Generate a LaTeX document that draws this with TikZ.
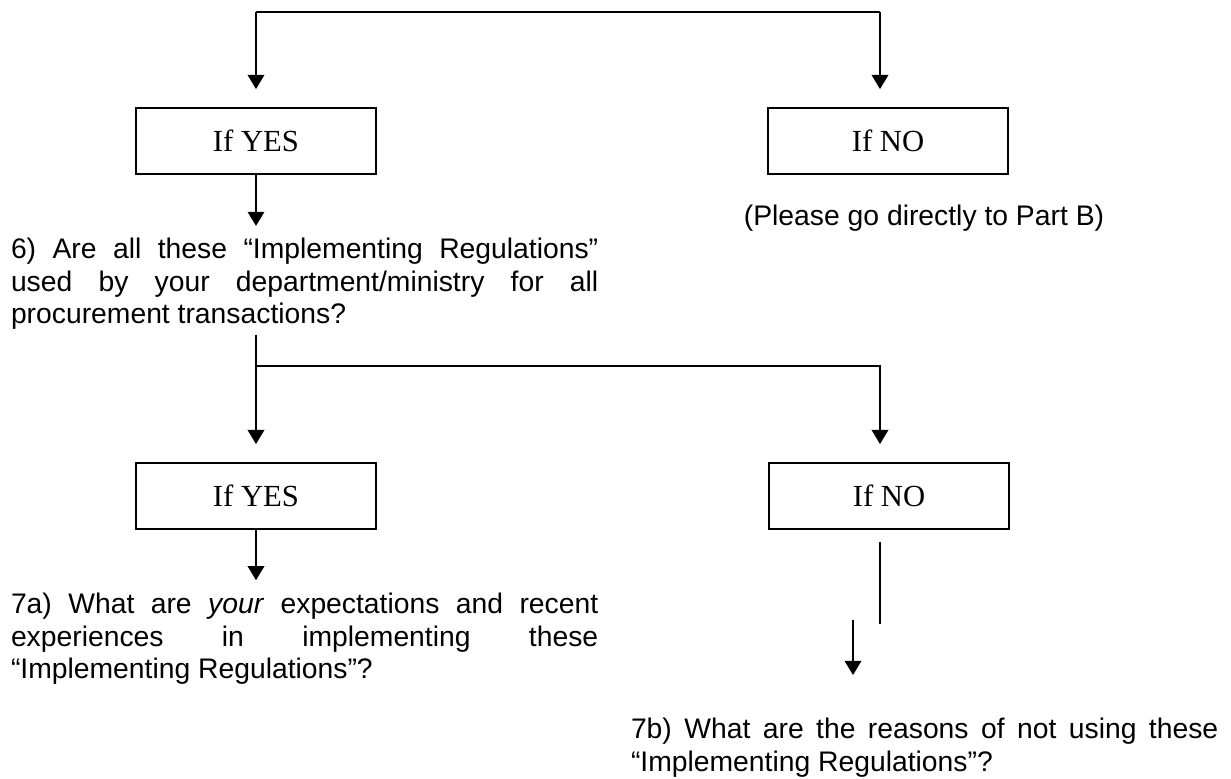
\documentclass[tikz,border=0pt]{standalone}
\usepackage{fontspec}
\setmainfont{Liberation Serif}
\setsansfont{Liberation Sans}
\usepackage{tikz}
\usetikzlibrary{arrows.meta}
\hyphenpenalty=10000
\exhyphenpenalty=10000
\tolerance=10000
\hbadness=10000
\tikzset{
every picture/.style={line width=0.85pt, >={Triangle[width=7pt,length=6pt]}},
%%%%%%%%%%  Node styles
choice_box/.style={draw, rectangle, minimum width=101.5pt, minimum height=28pt,
                   inner sep=0pt, font=\fontsize{13}{15}\selectfont},
question/.style={text width=249pt, align=justify, inner sep=0pt,
                 font=\sffamily\fontsize{12}{13.8}\selectfont},
skip_note/.style={inner sep=0pt, font=\sffamily\fontsize{12}{13.8}\selectfont},
%%%% line styles
flow/.style={->},
broken/.style={line width=0.5pt},
}

\begin{document}
\begin{tikzpicture}[x=0.424pt, y=-0.424pt]
\useasboundingbox (0,0) rectangle (1231,778);
%% first split
\coordinate (fork_a) at (256,12);
\coordinate (fork_a_no) at (880,12);
\node[choice_box] (yes_a) at (256,141) {If YES};
\node[choice_box] (no_a) at (888,141) {If NO};
\node[skip_note] (skip) at (924,218) {(Please go directly to Part B)};
\draw (fork_a) -- (fork_a_no);
\draw[flow, shorten >=7.6pt] (fork_a) -- (fork_a |- yes_a.north);
\draw[flow, shorten >=7.6pt] (fork_a_no) -- (fork_a_no |- no_a.north);
\node[question, anchor=north west] (q_six) at (10,237)
  {6) Are all these “Implementing Regulations” used by your department/ministry for all procurement transactions?};
\draw[flow, shorten >=4.7pt] (yes_a.south) -- (yes_a.south |- q_six.north);
%% second split
\coordinate (fork_b) at (256,366);
\coordinate (fork_b_no) at (880,366);
\node[choice_box] (yes_b) at (256,496) {If YES};
\node[choice_box] (no_b) at (889,496) {If NO};
\draw[flow, shorten <=1.7pt, shorten >=7.6pt] (q_six.south -| yes_b) -- (yes_b.north);
\draw[flow, shorten >=7.6pt] (fork_b) -| (fork_b_no |- no_b.north);
\node[question, anchor=north west] (q_sevena) at (10,592)
  {7a) What are \textit{your} expectations and recent\linebreak experiences in implementing these “Implementing Regulations”?};
\draw[flow, shorten >=5pt] (yes_b.south) -- (yes_b.south |- q_sevena.north);
\node[question, anchor=north west] (q_sevenb) at (630,717)
  {7b) What are the reasons of not using these “Implementing Regulations”?};
\coordinate (gap_top) at (880,624);
\coordinate (gap_bottom) at (853,620);
\draw[broken, shorten <=5pt] (no_b.south -| gap_top) -- (gap_top);
\draw[flow, shorten >=17.8pt] (gap_bottom) -- (gap_bottom |- q_sevenb.north);
\end{tikzpicture}
\end{document}
